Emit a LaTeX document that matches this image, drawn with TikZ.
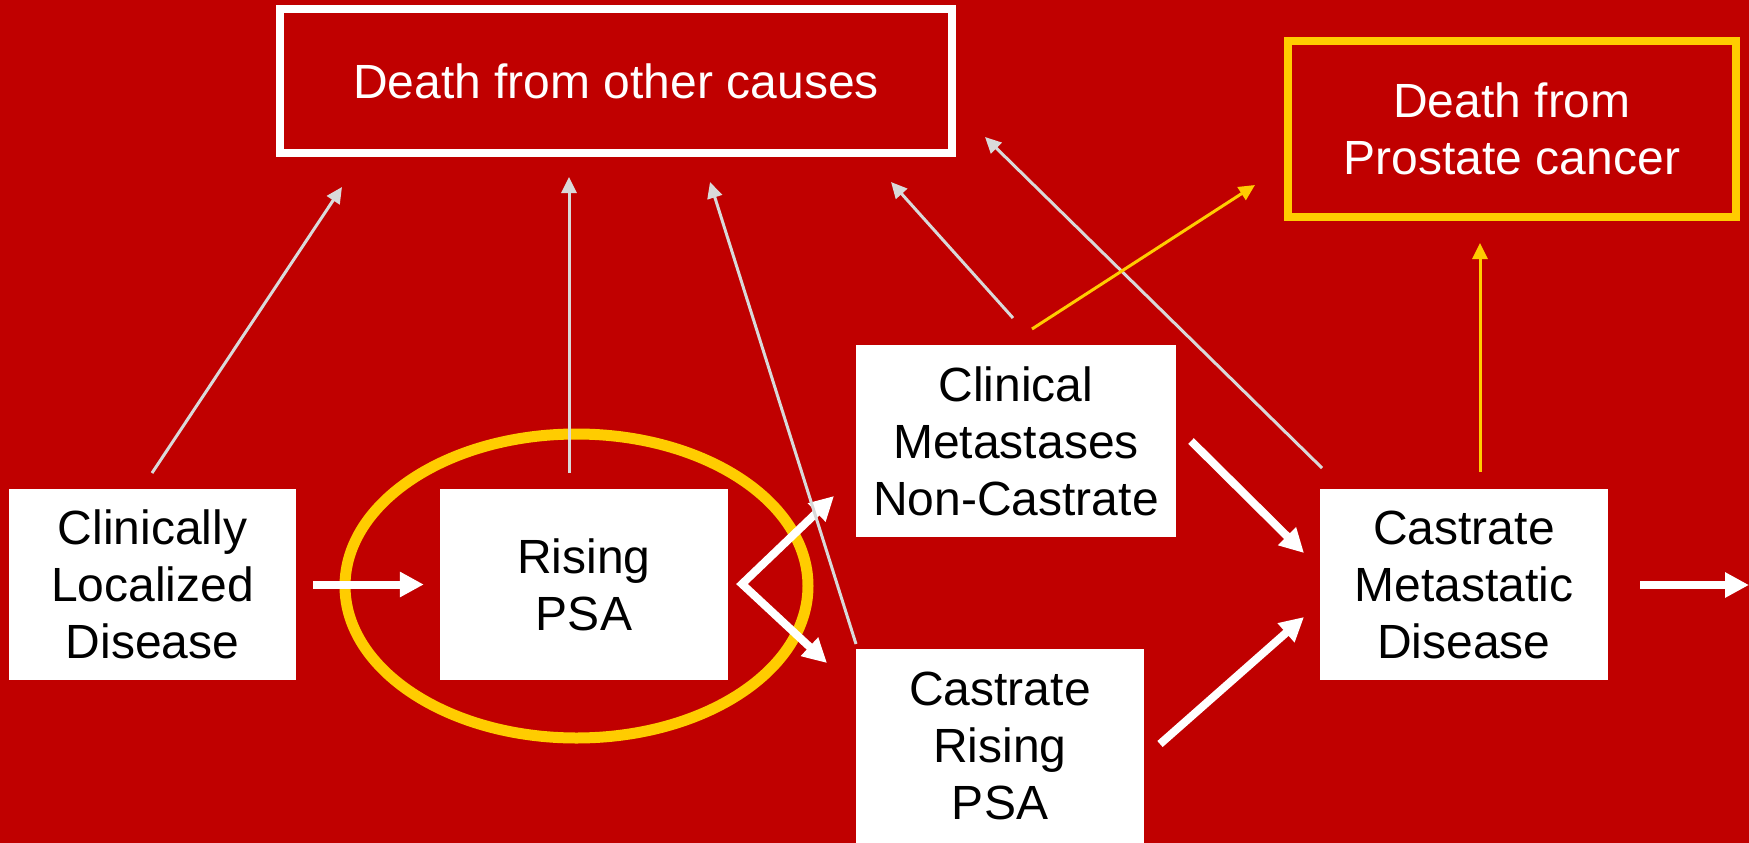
\documentclass[tikz,border=0pt]{standalone}
\usepackage{fontspec}
\setmainfont{Liberation Sans}
\usetikzlibrary{arrows.meta,shapes.geometric}
\definecolor{bgred}{HTML}{C00000}
\definecolor{gold}{HTML}{FFCC00}
\definecolor{lgray}{HTML}{D9D9D9}
\begin{document}
\begin{tikzpicture}[x=1pt,y=-1pt,
  txt/.style={font=\fontsize{48}{57}\selectfont, align=center, inner sep=0pt},
  whitebox/.style={txt, fill=white, text=black, minimum width=288pt, minimum height=191pt},
  redbox/.style={txt, text=white, line width=8pt, minimum height=144pt},
  bigarrow/.style={draw=white, line width=8pt, -{Triangle[length=24pt,width=24pt]}},
  thingray/.style={draw=lgray, line width=3pt, -{Triangle[length=16pt,width=15pt]}},
  thingold/.style={draw=gold, line width=3pt, -{Triangle[length=16pt,width=15pt]}},
]
\useasboundingbox (0,0) rectangle (1749,843);
\fill[bgred] (0,0) rectangle (1749,843);

% boxes
\node[redbox, draw=white, minimum width=672pt] (other) at (616,81) {Death from other causes};
\node[redbox, draw=gold, minimum width=448pt, minimum height=176pt] (prost) at (1512,129) {Death from\\Prostate cancer};
\node[whitebox, minimum width=287pt] (clin) at (152.5,584.5) {Clinically\\Localized\\Disease};
\node[whitebox] (rise) at (584,584.5) {Rising\\PSA};
\node[whitebox, minimum width=320pt, minimum height=192pt] (cmnc) at (1016,441) {Clinical\\Metastases\\Non-Castrate};
\node[whitebox, minimum height=194pt] (crp) at (1000,746) {Castrate\\Rising\\PSA};
\node[whitebox] (cmd) at (1464,584.5) {Castrate\\Metastatic\\Disease};

% highlight ring
\node[draw=gold, line width=11pt, ellipse, minimum width=463pt, minimum height=304pt, inner sep=0pt] (ring) at (576.5,586) {};

% endpoints
\coordinate (fork) at (742,584);
\coordinate (forkup) at (834,496);
\coordinate (forkdn) at (827,663);
\coordinate (mA) at (1191,441);
\coordinate (mB) at (1304,553);
\coordinate (rA) at (1160,744);
\coordinate (rB) at (1304,617);
\coordinate (oA) at (1640,585);
\coordinate (oB) at (1749,585);
\coordinate (g1a) at (152,473);
\coordinate (g1b) at (342,187);
\coordinate (g2a) at (569,473);
\coordinate (g2b) at (569,177);
\coordinate (g3a) at (856,644);
\coordinate (g3b) at (710,182);
\coordinate (g4a) at (1013,318);
\coordinate (g4b) at (891,182);
\coordinate (g5a) at (1322,468);
\coordinate (g5b) at (985,137);
\coordinate (y1a) at (1032,329);
\coordinate (y1b) at (1255,185);
\coordinate (y2a) at (1480,472);
\coordinate (y2b) at (1480,243);

% thick flow arrows
\draw[bigarrow, shorten <=17pt, shorten >=16pt] (clin.east) -- (rise.west);
\draw[bigarrow, {Triangle[length=24pt,width=24pt]}-{Triangle[length=24pt,width=24pt]}] (forkup) -- (fork) -- (forkdn);
\draw[bigarrow] (mA) -- (mB);
\draw[bigarrow] (rA) -- (rB);
\draw[bigarrow] (oA) -- (oB);

% thin arrows to deaths
\draw[thingray] (g1a) -- (g1b);
\draw[thingray] (g2a) -- (g2b);
\draw[thingray] (g3a) -- (g3b);
\draw[thingray] (g4a) -- (g4b);
\draw[thingray] (g5a) -- (g5b);
\draw[thingold] (y1a) -- (y1b);
\draw[thingold] (y2a) -- (y2b);
\end{tikzpicture}
\end{document}
